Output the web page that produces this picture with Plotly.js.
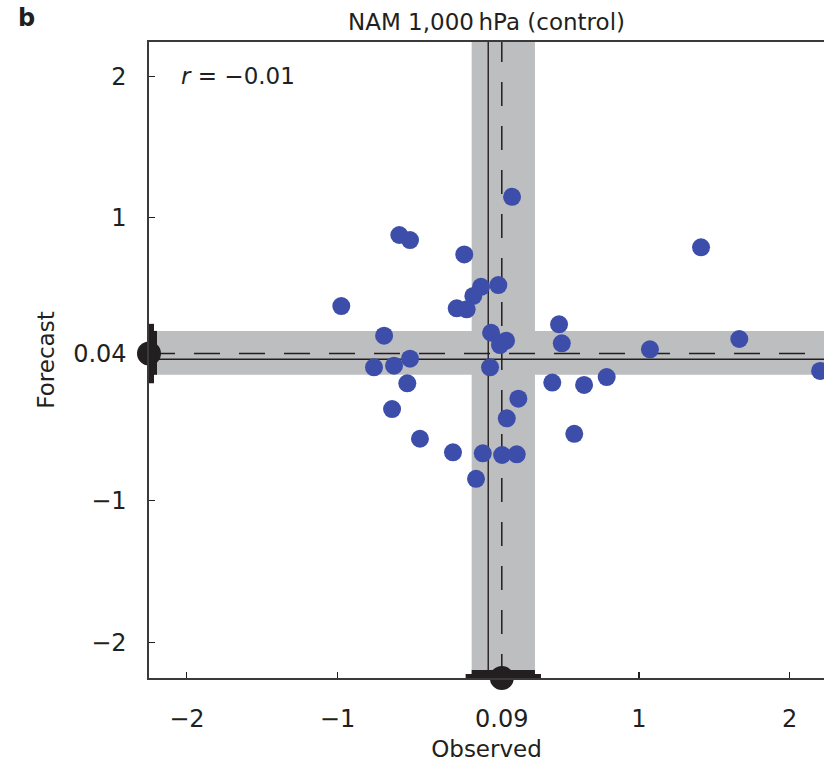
<!DOCTYPE html>
<html>
<head>
<meta charset="utf-8">
<script src="https://cdn.plot.ly/plotly-3.0.1.min.js"></script>
<style>html,body{margin:0;padding:0;background:#fff;}#chart{width:824px;height:765px;}</style>
</head>
<body>
<div id="chart"></div>
<script>
// ---- data ----
const observed = [0.158,-0.590,-0.519,1.412,-0.159,-0.975,-0.048,-0.099,0.067,-0.209,-0.143,-0.691,0.019,0.118,0.078,0.470,0.488,1.073,1.666,-0.519,-0.758,-0.625,0.012,2.202,-0.537,0.425,0.636,0.786,-0.638,0.200,0.123,-0.453,0.571,-0.234,-0.036,0.092,0.189,-0.081];
const forecast = [1.148,0.878,0.842,0.791,0.741,0.376,0.512,0.447,0.524,0.360,0.353,0.166,0.187,0.131,0.100,0.247,0.112,0.070,0.143,0.004,-0.057,-0.046,-0.057,-0.083,-0.170,-0.165,-0.182,-0.126,-0.352,-0.279,-0.418,-0.562,-0.527,-0.658,-0.665,-0.677,-0.672,-0.845];
const obsMean = 0.09;
const fcMean = 0.04;
const obsBand = [-0.11, 0.31];   // shaded interval, observed
const fcBand = [-0.11, 0.20];    // shaded interval, forecast
const obsRange = [-0.15, 0.35];  // outer whisker on axis, observed
const fcRange = [-0.17, 0.25];   // outer whisker on axis, forecast
const xTickVals = [-2, -1, 0.09, 1, 2];
const xTickText = ['\u22122', '\u22121', '0.09', '1', '2'];
const yTickVals = [-2, -1, 0.04, 1, 2];
const yTickText = ['\u22122', '\u22121', '0.04', '1', '2'];
const rText = '<i>r</i> = \u22120.01';
const titleText = 'NAM 1,000\u2009hPa (control)';

const xRange = [-2.251, 2.228];
const yRange = [-2.253, 2.242];

const ink = '#231f20';
const band = 'rgb(189,190,192)';
const dot = 'rgb(61,77,170)';
const F = 'DejaVu Sans, sans-serif';

const traces = [
  {type:'scatter', mode:'markers', x: observed, y: forecast,
   marker:{size:18, color:dot, line:{width:0}}, hoverinfo:'skip'},
  {type:'scatter', mode:'markers', x:[obsMean], y:[yRange[0]], cliponaxis:false,
   marker:{size:24, color:ink, line:{width:0}}, hoverinfo:'skip'},
  {type:'scatter', mode:'markers', x:[xRange[0]], y:[fcMean], cliponaxis:false,
   marker:{size:24, color:ink, line:{width:0}}, hoverinfo:'skip'}
];

const shapes = [
  {type:'rect', layer:'below', xref:'x', yref:'paper', x0:obsBand[0], x1:obsBand[1], y0:0, y1:1, fillcolor:band, line:{width:0}},
  {type:'rect', layer:'below', xref:'paper', yref:'y', x0:0, x1:1, y0:fcBand[0], y1:fcBand[1], fillcolor:band, line:{width:0}},
  {type:'line', layer:'below', xref:'x', yref:'paper', x0:0, x1:0, y0:0, y1:1, line:{color:ink, width:1.4}},
  {type:'line', layer:'below', xref:'paper', yref:'y', x0:0, x1:1, y0:0, y1:0, line:{color:ink, width:1.4}},
  {type:'line', layer:'below', xref:'x', yref:'paper', x0:obsMean, x1:obsMean, y0:0, y1:1, line:{color:ink, width:1.5, dash:'24px,20px'}},
  {type:'line', layer:'below', xref:'paper', yref:'y', x0:0, x1:1, y0:fcMean, y1:fcMean, line:{color:ink, width:1.5, dash:'26px,19px'}},
  // bars on the axes
  {type:'rect', layer:'above', xref:'x', yref:'y', x0:obsRange[0], x1:obsRange[1], ysizemode:'pixel', yanchor:yRange[0], y0:0, y1:4, fillcolor:ink, line:{width:0}},
  {type:'rect', layer:'above', xref:'x', yref:'y', x0:obsBand[0], x1:obsBand[1], ysizemode:'pixel', yanchor:yRange[0], y0:0, y1:8, fillcolor:ink, line:{width:0}},
  {type:'rect', layer:'above', xref:'x', yref:'y', y0:fcRange[0], y1:fcRange[1], xsizemode:'pixel', xanchor:xRange[0], x0:0, x1:5, fillcolor:ink, line:{width:0}},
  {type:'rect', layer:'above', xref:'x', yref:'y', y0:fcBand[0], y1:fcBand[1], xsizemode:'pixel', xanchor:xRange[0], x0:0, x1:8, fillcolor:ink, line:{width:0}}
];

const layout = {
  width:824, height:765,
  margin:{l:149, r:0, t:42, b:87},
  paper_bgcolor:'#fff', plot_bgcolor:'#fff',
  showlegend:false,
  font:{family:F, color:ink, size:23},
  title:{text:titleText, x:0.5, xref:'paper', xanchor:'center', y:1-22/765, yref:'container', yanchor:'middle', font:{family:F, size:23, color:ink}},
  xaxis:{range:xRange, tickvals:xTickVals, ticktext:xTickText, ticks:'inside', ticklen:6, tickwidth:1.3, tickcolor:ink,
         showline:true, linecolor:'#3a3a3a', linewidth:1.6, mirror:true, showgrid:false, zeroline:false,
         tickfont:{family:F, size:24, color:ink}, ticklabelstandoff:19,
         title:{text:'Observed', font:{family:F, size:23, color:ink}, standoff:8}},
  yaxis:{range:yRange, tickvals:yTickVals, ticktext:yTickText, ticks:'inside', ticklen:6, tickwidth:1.3, tickcolor:ink,
         showline:true, linecolor:'#3a3a3a', linewidth:1.6, mirror:false, showgrid:false, zeroline:false,
         tickfont:{family:F, size:24, color:ink}, ticklabelstandoff:16,
         title:{text:'Forecast', font:{family:F, size:23, color:ink}, standoff:12}},
  shapes:shapes,
  annotations:[
    {xref:'paper', yref:'paper', x:-0.197, y:1.037, xanchor:'left', yanchor:'middle', showarrow:false,
     text:'<b>b</b>', font:{family:F, size:24, color:ink}},
    {xref:'x', yref:'y', x:-2.05, y:2, xanchor:'left', yanchor:'middle', showarrow:false,
     text:rText, font:{family:F, size:23, color:ink}}
  ]
};

Plotly.newPlot('chart', traces, layout, {displayModeBar:false, staticPlot:true});
</script>
</body>
</html>
